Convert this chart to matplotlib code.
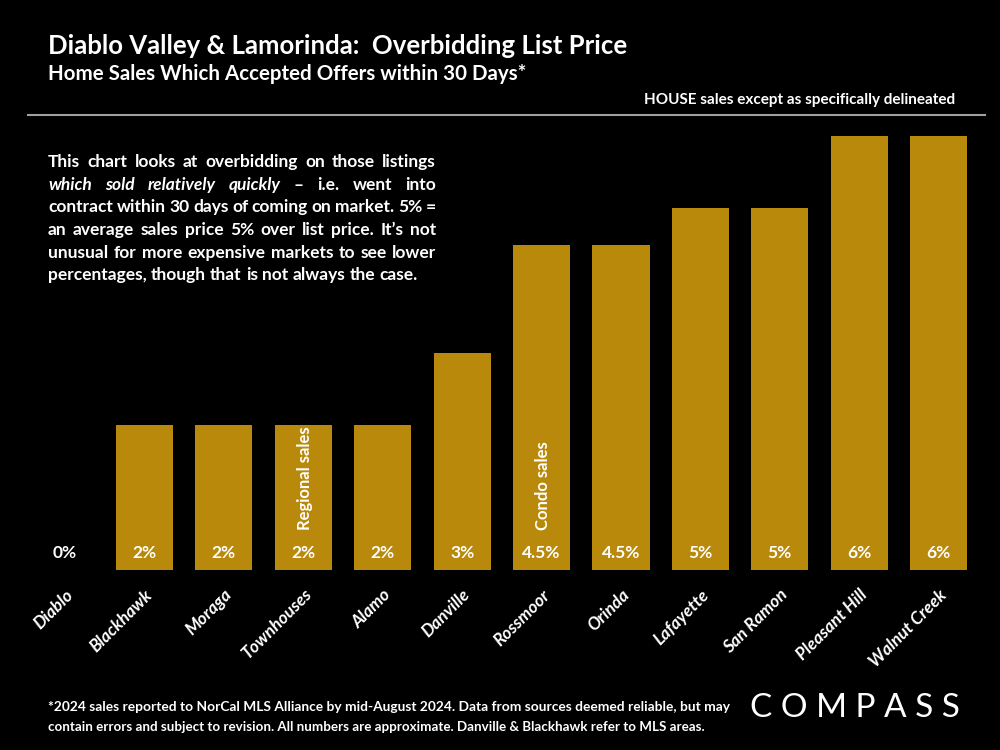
import matplotlib.pyplot as plt

# Datos del gráfico
areas = ['Diablo', 'Blackhawk', 'Moraga', 'Townhouses', 'Alamo', 'Danville',
         'Rossmoor', 'Orinda', 'Lafayette', 'San Ramon', 'Pleasant Hill', 'Walnut Creek']
overbid = [0, 2, 2, 2, 2, 3, 4.5, 4.5, 5, 5, 6, 6]
etiquetas = ['0%', '2%', '2%', '2%', '2%', '3%', '4.5%', '4.5%', '5%', '5%', '6%', '6%']
notas_barra = {'Townhouses': 'Regional sales', 'Rossmoor': 'Condo sales'}

FONT = 'Lato'
GOLD = '#B8890A'

plt.rcParams['font.family'] = [FONT, 'DejaVu Sans']

fig = plt.figure(figsize=(10, 7.5), dpi=100, facecolor='black')
W, H = 1000, 750

def fx(px):
    return px / W

def fy(py):
    return 1 - py / H

ax = fig.add_axes([fx(25.3), fy(570), fx(953), 434 / H])
ax.set_facecolor('black')
x = range(len(areas))
ax.bar(x, overbid, width=0.72, color=GOLD, linewidth=0)
ax.set_xlim(-0.5, len(areas) - 0.5)
ax.set_ylim(0, 6)
for s in ax.spines.values():
    s.set_visible(False)
ax.set_yticks([])
ax.set_xticks(list(x))
ax.set_xticklabels(areas, rotation=45, ha='right', rotation_mode='anchor',
                   color='white', fontsize=12.5, style='italic', fontweight='bold')
ax.tick_params(axis='x', length=0, pad=12)

for i, lab in enumerate(etiquetas):
    ax.text(i, 0.235, lab, ha='center', va='center', color='white',
            fontsize=12.5, fontweight='bold')

for nombre, nota in notas_barra.items():
    i = areas.index(nombre)
    ax.text(i + 0.02, 0.55, nota, rotation=90, ha='center', va='bottom',
            color='white', fontsize=12, fontweight='bold')

# Títulos
fig.text(fx(48), fy(46), 'Diablo Valley & Lamorinda:  Overbidding List Price',
         color='white', fontsize=18.5, fontweight='bold', va='center')
fig.text(fx(48), fy(74), 'Home Sales Which Accepted Offers within 30 Days*',
         color='white', fontsize=14.8, fontweight='bold', va='center')
fig.text(fx(955), fy(100), 'HOUSE sales except as specifically delineated',
         color='white', fontsize=11, fontweight='bold', va='center', ha='right')
fig.add_artist(plt.Line2D([fx(28), fx(985)], [fy(115), fy(115)],
                          color='#a0a0a0', linewidth=1.5))

# Párrafo justificado
lineas = [
    [('This chart looks at overbidding on those listings', 'normal')],
    [('which sold relatively quickly', 'italic'), ('– i.e. went into', 'normal')],
    [('contract within 30 days of coming on market. 5% =', 'normal')],
    [('an average sales price 5% over list price. It’s not', 'normal')],
    [('unusual for more expensive markets to see lower', 'normal')],
    [('percentages, though that is not always the case.', 'normal')],
]
renderer = fig.canvas.get_renderer()
x0, x1 = 48, 436
y_line = 162
for n, linea in enumerate(lineas):
    palabras = []
    for frag, estilo in linea:
        for w in frag.split(' '):
            palabras.append((w, estilo))
    objs = []
    total = 0
    for w, estilo in palabras:
        t = fig.text(0, fy(y_line), w, color='white', fontsize=12.5,
                     fontweight='bold', style=estilo, va='center')
        ancho = t.get_window_extent(renderer).width
        objs.append((t, ancho))
        total += ancho
    if n == len(lineas) - 1:
        gap = 4.2
    else:
        gap = (x1 - x0 - total) / (len(objs) - 1)
    pos = x0
    for t, ancho in objs:
        t.set_x(fx(pos))
        pos += ancho + gap
    y_line += 22.7

# Nota al pie
fig.text(fx(48), fy(707), '*2024 sales reported to NorCal MLS Alliance by mid-August 2024. '
         'Data from sources deemed reliable, but may', color='white', fontsize=9.9,
         fontweight='bold', va='center')
fig.text(fx(48), fy(727), 'contain errors and subject to revision. All numbers are approximate. '
         'Danville & Blackhawk refer to MLS areas.', color='white', fontsize=9.6,
         fontweight='bold', va='center')

# Logo
fig.text(fx(855), fy(708), 'C O M P A S S', color='white', fontsize=24,
         fontweight='normal', ha='center', va='center')

fig.savefig('out.png', dpi=100, facecolor='black')
